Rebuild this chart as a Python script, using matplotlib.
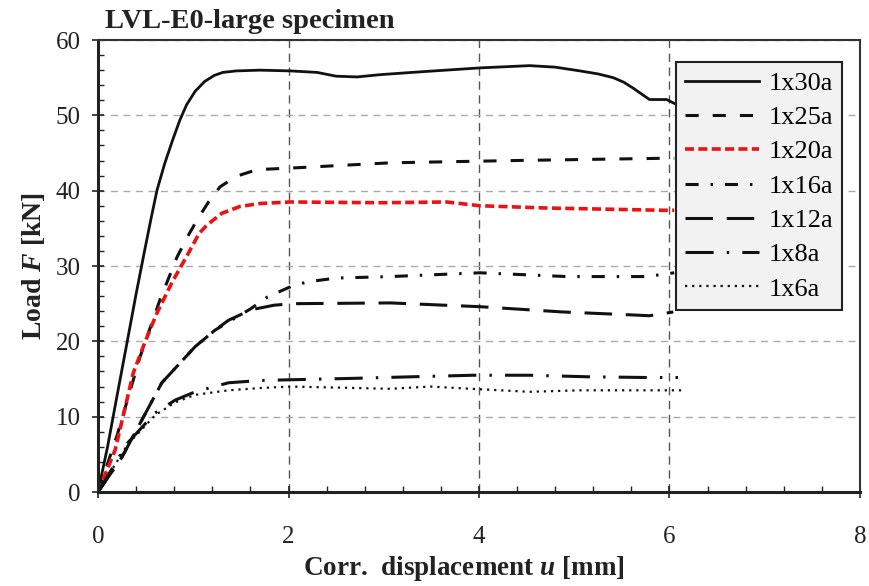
import matplotlib
matplotlib.use("Agg")
import matplotlib.pyplot as plt
from matplotlib.ticker import MultipleLocator

u_30 = [0, 0.10, 0.20, 0.31, 0.40, 0.49, 0.56, 0.62, 0.70, 0.78, 0.86, 0.93, 1.02, 1.12, 1.22, 1.31, 1.45, 1.70,
        2.02, 2.30, 2.50, 2.72, 2.96, 3.41, 4.01, 4.53, 4.80, 5.06, 5.25, 5.41, 5.52, 5.62, 5.79, 5.97, 6.08]
F_30 = [0, 6.0, 12.8, 20.2, 26.3, 32.1, 36.5, 40.1, 43.6, 46.6, 49.4, 51.4, 53.2, 54.5, 55.3, 55.7, 55.9, 56.0,
        55.9, 55.7, 55.2, 55.1, 55.4, 55.8, 56.3, 56.6, 56.4, 55.9, 55.5, 55.0, 54.4, 53.6, 52.1, 52.1, 51.4]

u_25 = [0, 0.20, 0.44, 0.65, 0.83, 0.94, 1.04, 1.16, 1.28, 1.45, 1.67, 2.02, 3.07, 4.36, 5.93, 6.05]
F_25 = [0, 7.5, 17.9, 25.5, 31.2, 33.9, 36.1, 38.5, 40.5, 41.9, 42.8, 43.0, 43.7, 44.0, 44.3, 44.3]

u_20 = [0, 0.18, 0.37, 0.49, 0.62, 0.78, 0.94, 1.06, 1.14, 1.30, 1.49, 1.70, 2.02, 2.96, 3.66, 4.01, 4.71, 5.93, 6.05]
F_20 = [0, 5.6, 15.8, 19.8, 23.8, 27.9, 31.5, 34.3, 35.4, 37.0, 37.9, 38.3, 38.5, 38.4, 38.5, 38.0, 37.7, 37.4, 37.4]

u_16 = [0, 0.25, 0.67, 1.02, 1.23, 1.40, 1.60, 1.78, 2.03, 2.20, 2.50, 3.07, 4.01, 4.92, 5.76, 6.05]
F_16 = [0, 4.6, 14.5, 19.3, 21.5, 22.8, 24.3, 25.9, 27.3, 27.9, 28.4, 28.6, 29.1, 28.6, 28.6, 29.1]

u_12 = [0, 0.25, 0.67, 1.02, 1.23, 1.37, 1.61, 1.85, 2.05, 3.07, 4.01, 4.88, 5.62, 5.79, 6.04]
F_12 = [0, 4.6, 14.5, 19.3, 21.5, 22.8, 24.2, 24.8, 25.0, 25.1, 24.6, 23.9, 23.5, 23.4, 23.9]

u_8 = [0, 0.31, 0.60, 0.81, 1.02, 1.37, 1.70, 2.02, 2.72, 3.31, 3.94, 4.53, 5.13, 5.76, 6.09]
F_8 = [0, 6.5, 10.5, 12.2, 13.3, 14.5, 14.8, 14.9, 15.1, 15.3, 15.5, 15.5, 15.3, 15.2, 15.2]

u_6 = [0, 0.31, 0.60, 0.81, 1.02, 1.37, 1.70, 2.02, 3.07, 3.49, 3.77, 4.53, 5.06, 6.15]
F_6 = [0, 6.3, 10.2, 11.9, 12.9, 13.5, 13.8, 14.0, 13.7, 14.0, 13.8, 13.3, 13.5, 13.5]

labels = ["1x30a", "1x25a", "1x20a", "1x16a", "1x12a", "1x8a", "1x6a"]

plt.rcParams["font.family"] = ["Liberation Serif", "DejaVu Serif"]
plt.rcParams["mathtext.fontset"] = "custom"
plt.rcParams["mathtext.it"] = "Liberation Serif:italic:bold"
plt.rcParams["mathtext.rm"] = "Liberation Serif:bold"

fig = plt.figure(figsize=(8.69, 5.86), dpi=100)
ax = fig.add_axes([0.1128, 0.1604, 0.8768, 0.7713])

black = "#111111"
ax.plot(u_30, F_30, color=black, lw=2.0, ls="-", label=labels[0])
ax.plot(u_25, F_25, color=black, lw=2.2, ls=(0, (4.3, 4.6)), label=labels[1])
ax.plot(u_20, F_20, color="#ee1111", lw=2.6, ls=(0, (2.5, 1.2)), label=labels[2])
ax.plot(u_16, F_16, color=black, lw=2.2, ls=(0, (4.3, 3.9, 0.8, 3.9)), label=labels[3])
ax.plot(u_12, F_12, color=black, lw=2.2, ls=(0, (9, 4.5)), label=labels[4])
ax.plot(u_8, F_8, color=black, lw=2.2, ls=(0, (9.2, 4.3, 0.8, 4.3)), label=labels[5])
ax.plot(u_6, F_6, color=black, lw=1.6, ls=(0, (1, 2.2)), label=labels[6])

ax.set_xlim(0, 8)
ax.set_ylim(0, 60)
ax.xaxis.set_major_locator(MultipleLocator(2))
ax.xaxis.set_minor_locator(MultipleLocator(0.4))
ax.yaxis.set_major_locator(MultipleLocator(10))
ax.yaxis.set_minor_locator(MultipleLocator(2))
ax.tick_params(which="major", direction="inout", length=9, width=1.2, labelsize=18, colors="#222222", pad=8)
ax.tick_params(axis="x", which="major", pad=20)
ax.tick_params(which="minor", direction="in", length=4, width=1.0, colors="#222222")

ax.yaxis.grid(True, which="major", color="#aaaaaa", ls=(0, (5, 4)), lw=1.0)
ax.xaxis.grid(True, which="major", color="#555555", ls=(0, (6, 4)), lw=1.0)
ax.set_axisbelow(True)

for side in ["top", "right"]:
    ax.spines[side].set_linewidth(1.5)
    ax.spines[side].set_color("#333333")
for side in ["left", "bottom"]:
    ax.spines[side].set_linewidth(2.2)
    ax.spines[side].set_color("#222222")

ax.set_xlabel(r"Corr.  displacement $u$ [mm]", fontsize=19.5, fontweight="bold", labelpad=4, color="#222222")
ax.xaxis.label.set_x(0.48)
ax.set_ylabel(r"Load $F$ [kN]", fontsize=20, fontweight="bold", labelpad=6, color="#222222")
fig.text(0.121, 0.952, "LVL-E0-large specimen", fontsize=20.5, fontweight="bold", color="#222222")

leg = ax.legend(loc="upper right", bbox_to_anchor=(0.977, 0.951), borderaxespad=0, fontsize=19,
                handlelength=2.8, labelspacing=0.41, handletextpad=0.35, borderpad=0.35, fancybox=False,
                edgecolor="#222222", framealpha=1.0)
leg.get_frame().set_facecolor("#f2f2f2")
leg.get_frame().set_linewidth(1.5)

fig.savefig("out.png", dpi=100)
